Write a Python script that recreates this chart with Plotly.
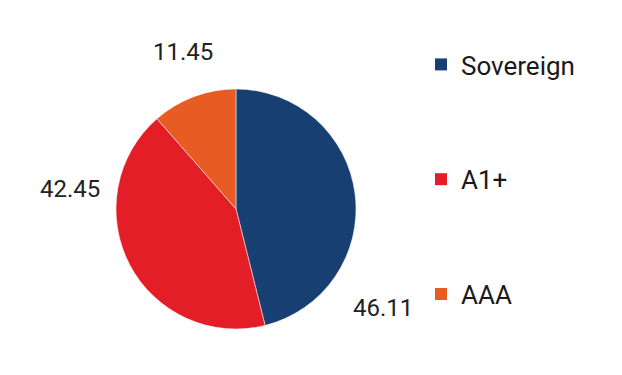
import plotly.graph_objects as go

categories = ["Sovereign", "A1+", "AAA"]
values = [46.11, 42.45, 11.45]
colors = ["#183f71", "#e31e26", "#e85b22"]

W, H = 622, 375
label_pos = {"Sovereign": (383, 308), "A1+": (70, 189), "AAA": (183, 52)}

fig = go.Figure()
fig.add_trace(go.Pie(
    labels=categories, values=values, sort=False, direction="clockwise", rotation=0,
    marker=dict(colors=colors, line=dict(color="white", width=0.5)),
    textinfo="none", showlegend=False, hoverinfo="label+value",
    domain=dict(x=[116 / W, 356 / W], y=[(H - 329) / H, (H - 89) / H]),
))
for i, (c, col) in enumerate(zip(categories, colors)):
    fig.add_trace(go.Scatter(
        x=[None], y=[None], mode="markers", name=c, legendgroup=c,
        marker=dict(symbol="square", size=12, color=col),
    ))
for c, v in zip(categories, values):
    px, py = label_pos[c]
    fig.add_annotation(x=px / W, y=1 - py / H, xref="paper", yref="paper",
                       xanchor="center", yanchor="middle",
                       text=f"{v:.2f}", showarrow=False,
                       font=dict(size=24, color="#222222", family="Roboto"))

fig.update_layout(
    width=W, height=H, margin=dict(l=0, r=0, t=0, b=0),
    paper_bgcolor="white", plot_bgcolor="white",
    xaxis=dict(visible=False), yaxis=dict(visible=False),
    font=dict(family="Roboto", color="#222222"),
    legend=dict(x=421 / W, y=1 - 41 / H, xanchor="left", yanchor="top",
                font=dict(size=26, color="#1a1a1a", family="Roboto"),
                tracegroupgap=78, itemwidth=30, bgcolor="rgba(0,0,0,0)"),
)
fig.write_html("out.html", config={"displayModeBar": False},
               post_script="document.body.style.margin='0';")
